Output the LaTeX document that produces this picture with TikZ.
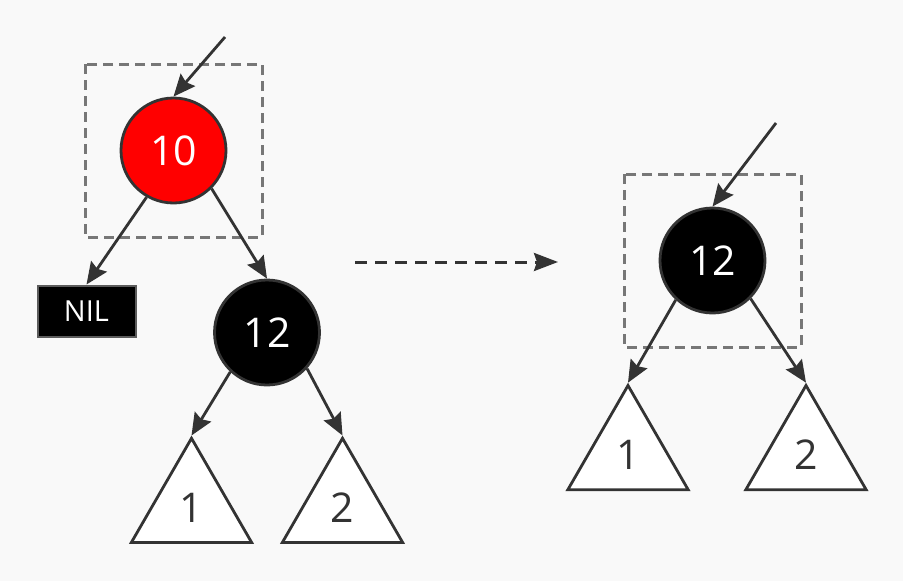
\documentclass[tikz,border=0pt]{standalone}
\usepackage{fontspec}
\setmainfont{Open Sans}
\usetikzlibrary{arrows.meta,shapes.geometric}
\definecolor{bg}{HTML}{F9F9F9}
\definecolor{ink}{HTML}{333333}
\definecolor{boxgray}{HTML}{777777}
\begin{document}
\begin{tikzpicture}[x=1pt,y=-1pt,
  rbnode/.style={circle,draw=ink,line width=2.8pt,minimum size=105pt,inner sep=0pt,text=white,font=\fontsize{41}{48}\selectfont},
  rednode/.style={rbnode,fill=red},
  blacknode/.style={rbnode,fill=black},
  nilbox/.style={rectangle,draw=ink!80,line width=2pt,fill=black,minimum width=98pt,minimum height=51pt,inner sep=0pt,text=white,font=\fontsize{29}{34}\selectfont},
  subtree/.style={regular polygon,regular polygon sides=3,draw=ink,line width=2.8pt,fill=white,minimum size=139pt,inner sep=0pt,text=ink,font=\fontsize{41}{48}\selectfont},
  edge/.style={draw=ink,line width=2.8pt,-{Stealth[length=22pt,width=19pt,inset=3pt]}},
  focus/.style={draw=boxgray,line width=3pt,dash pattern=on 10pt off 6pt},
  move/.style={draw=ink,line width=3pt,dash pattern=on 12pt off 8pt,-{Stealth[length=24pt,width=18pt,inset=3pt]}}
]
\fill[bg] (0,0) rectangle (903,581);
\useasboundingbox (0,0) rectangle (903,581);

% left tree
\node[rednode] (a10) at (173.5,150.5) {10};
\node[nilbox] (nil) at (86.5,311) {NIL};
\node[blacknode] (a12) at (267,332.5) {12};
\node[subtree] (at1) at (191.5,507.8) {1};
\node[subtree] (at2) at (342.5,507.8) {2};
\draw[focus] (85,64) rectangle (262,237);
\coordinate (ain) at (225,37);
\draw[edge] (ain) -- (a10.north);
\draw[edge] (a10.240) -- (nil.north);
\draw[edge] (a10.-45) -- (a12.north);
\draw[edge] (a12.227) -- (at1.corner 1);
\draw[edge] (a12.-42) -- (at2.corner 1);

% transition
\coordinate (ms) at (355,262);
\coordinate (me) at (558,262);
\draw[move] (ms) -- (me);

% right tree
\node[blacknode] (b12) at (712.5,260.5) {12};
\node[subtree] (bt1) at (628,455) {1};
\node[subtree] (bt2) at (806,455) {2};
\draw[focus] (624,174) rectangle (801,347);
\coordinate (bin) at (776,123);
\draw[edge] (bin) -- (b12.north);
\draw[edge] (b12.227) -- (bt1.corner 1);
\draw[edge] (b12.-45) -- (bt2.corner 1);
\end{tikzpicture}
\end{document}
